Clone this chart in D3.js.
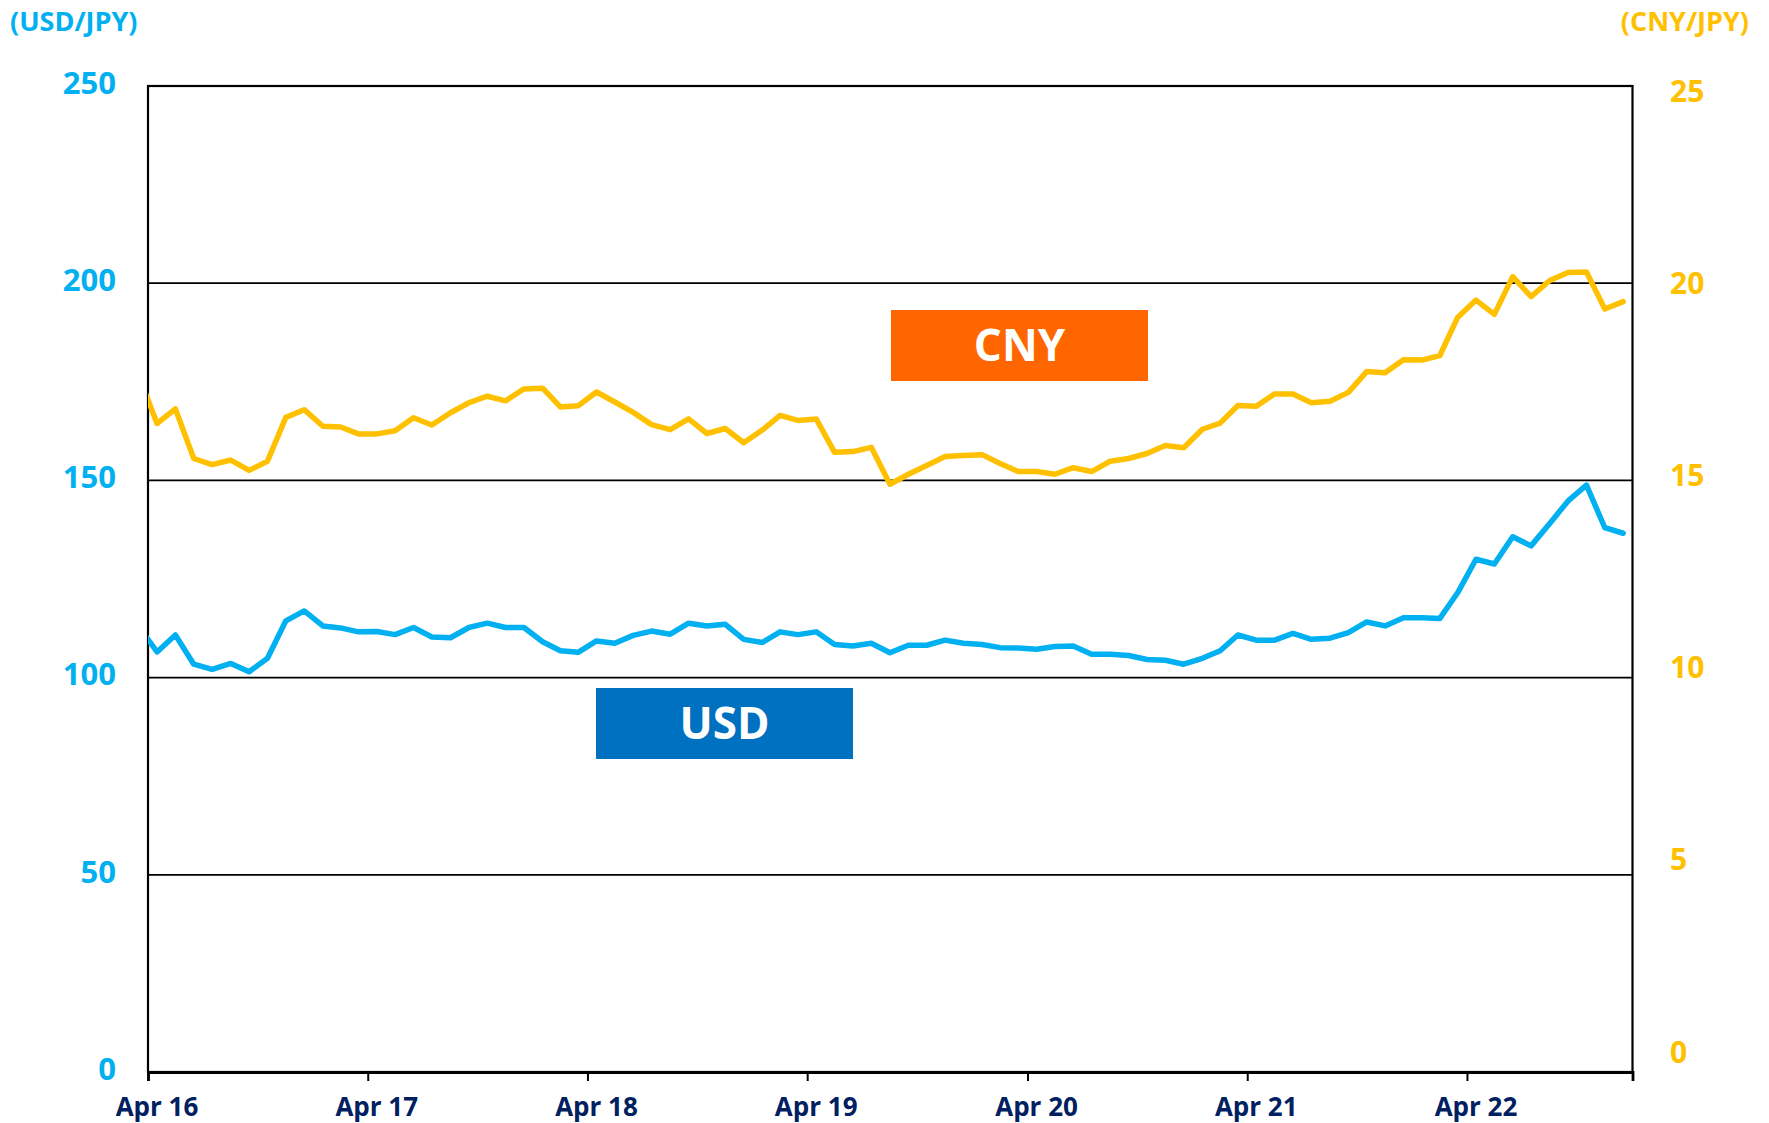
<!DOCTYPE html>
<html>
<head>
<meta charset="utf-8">
<script src="https://cdn.jsdelivr.net/npm/d3@7"></script>
<style>
  body { margin: 0; background: #fff; }
  text { font-family: "Open Sans", "Liberation Sans", sans-serif; font-weight: 700; }
</style>
</head>
<body>
<div id="chart"></div>
<script>
// month-end rates, first entry is Mar 2016 (sits just left of the axis and gets clipped)
const startMonth = new Date(2016, 2, 1);

const usdJpy = [
    113.0,
    106.5, 110.8, 103.4, 102.1, 103.6, 101.5, 104.9, 114.4, 116.9,
    113.1, 112.6, 111.6, 111.7, 110.9, 112.7, 110.3, 110.1, 112.7, 113.8, 112.7, 112.7,
    109.1, 106.8, 106.4, 109.3, 108.7, 110.7, 111.8, 111.0, 113.8, 113.1, 113.5, 109.7,
    108.9, 111.6, 110.9, 111.6, 108.4, 108.0, 108.7, 106.3, 108.2, 108.2, 109.5, 108.7,
    108.4, 107.6, 107.5, 107.2, 107.9, 108.0, 105.9, 105.9, 105.6, 104.6, 104.4, 103.4,
    104.9, 106.8, 110.8, 109.5, 109.5, 111.2, 109.7, 110.0, 111.4, 114.1, 113.1, 115.2,
    115.2, 115.0, 121.5, 130.0, 128.8, 135.7, 133.4, 139.1, 144.8, 148.8, 138.0, 136.6
];

const cnyJpy = [
    17.6,
    16.35, 16.73, 15.44, 15.28, 15.40, 15.13, 15.37, 16.51, 16.71,
    16.28, 16.26, 16.08, 16.08, 16.16, 16.50, 16.31, 16.63, 16.89, 17.06, 16.94, 17.25,
    17.27, 16.78, 16.81, 17.17, 16.91, 16.64, 16.32, 16.19, 16.47, 16.09, 16.22, 15.85,
    16.18, 16.56, 16.43, 16.47, 15.60, 15.62, 15.73, 14.77, 15.03, 15.26, 15.49, 15.52,
    15.54, 15.31, 15.10, 15.10, 15.03, 15.20, 15.10, 15.37, 15.44, 15.57, 15.78, 15.72,
    16.20, 16.36, 16.82, 16.80, 17.12, 17.12, 16.89, 16.93, 17.16, 17.70, 17.67, 18.01,
    18.00, 18.12, 19.11, 19.56, 19.19, 20.17, 19.65, 20.07, 20.28, 20.29, 19.33, 19.52
];

const leftTicks = [0, 50, 100, 150, 200, 250];
const rightTicks = [0, 5, 10, 15, 20, 25];
const xTickYears = [2016, 2017, 2018, 2019, 2020, 2021, 2022];
const xTickLabels = ["Apr 16", "Apr 17", "Apr 18", "Apr 19", "Apr 20", "Apr 21", "Apr 22"];

const W = 1769, H = 1123;
const plot = { left: 148, right: 1632.5, top: 86, bottom: 1072 };

const blue = "#00B0F0", gold = "#FFC000", navy = "#002060";

// centre of each month slot
const months = usdJpy.map((_, i) => d3.timeMonth.offset(startMonth, i));
const mid = d => new Date((+d + +d3.timeMonth.offset(d, 1)) / 2);

// ──── Scales ────
const x = d3.scaleTime()
    .domain([new Date(2016, 3, 1), new Date(2023, 0, 1)])
    .range([plot.left, plot.right]);

const yLeft = d3.scaleLinear()
    .domain([0, 250])
    .range([plot.bottom, plot.top]);

// the secondary axis in the original is a bit squeezed
const yRight = d3.scaleLinear()
    .domain([0, 25])
    .range([1052, 91]);

const svg = d3.select("#chart")
    .append("svg")
    .attr("width", W)
    .attr("height", H);

svg.append("defs").append("clipPath")
    .attr("id", "plot-clip")
    .append("rect")
    .attr("x", plot.left)
    .attr("y", plot.top - 10)
    .attr("width", plot.right - plot.left)
    .attr("height", plot.bottom - plot.top + 10);

// Grid lines
svg.append("g")
    .selectAll("line")
    .data(leftTicks.filter(d => d > 0 && d < 250))
    .join("line")
    .attr("x1", plot.left)
    .attr("x2", plot.right)
    .attr("y1", d => yLeft(d))
    .attr("y2", d => yLeft(d))
    .attr("stroke", "#000")
    .attr("stroke-width", 1.8);

// Frame
svg.append("rect")
    .attr("x", plot.left)
    .attr("y", plot.top)
    .attr("width", plot.right - plot.left)
    .attr("height", plot.bottom - plot.top)
    .attr("fill", "none")
    .attr("stroke", "#000")
    .attr("stroke-width", 2.2);

// X axis ticks + labels
const xAxis = svg.append("g")
    .attr("transform", `translate(0, ${plot.bottom})`)
    .call(d3.axisBottom(x)
        .tickValues(xTickYears.map(y => new Date(y, 3, 1)))
        .tickSize(9)
        .tickFormat(""));
xAxis.select(".domain").attr("stroke-width", 2.8);
xAxis.selectAll(".tick line").attr("stroke", "#000").attr("stroke-width", 2);

svg.append("g")
    .selectAll("text")
    .data(xTickYears)
    .join("text")
    .attr("x", d => x(mid(new Date(d, 3, 1))))
    .attr("y", 1107)
    .attr("dy", "0.35em")
    .attr("text-anchor", "middle")
    .attr("fill", navy)
    .attr("font-size", 26)
    .text((d, i) => xTickLabels[i]);

// Left axis labels
svg.append("g")
    .selectAll("text")
    .data(leftTicks)
    .join("text")
    .attr("x", 116)
    .attr("y", d => yLeft(d) - 3)
    .attr("dy", "0.35em")
    .attr("text-anchor", "end")
    .attr("fill", blue)
    .attr("font-size", 31)
    .text(d => d);

// Right axis labels
svg.append("g")
    .selectAll("text")
    .data(rightTicks)
    .join("text")
    .attr("x", 1670)
    .attr("y", d => yRight(d))
    .attr("dy", "0.35em")
    .attr("text-anchor", "start")
    .attr("fill", gold)
    .attr("font-size", 30)
    .text(d => d);

// Unit titles
svg.append("text")
    .attr("x", 10)
    .attr("y", 22)
    .attr("dy", "0.35em")
    .attr("fill", blue)
    .attr("font-size", 27)
    .text("(USD/JPY)");

svg.append("text")
    .attr("x", 1749)
    .attr("y", 22)
    .attr("dy", "0.35em")
    .attr("text-anchor", "end")
    .attr("fill", gold)
    .attr("font-size", 27)
    .text("(CNY/JPY)");

// ──── Lines ────
const lineLeft = d3.line()
    .x((d, i) => x(mid(months[i])))
    .y(d => yLeft(d));

const lineRight = d3.line()
    .x((d, i) => x(mid(months[i])))
    .y(d => yRight(d));

const lines = svg.append("g").attr("clip-path", "url(#plot-clip)");

lines.append("path")
    .datum(cnyJpy)
    .attr("d", lineRight)
    .attr("fill", "none")
    .attr("stroke", gold)
    .attr("stroke-width", 5.5)
    .attr("stroke-linejoin", "round")
    .attr("stroke-linecap", "round");

lines.append("path")
    .datum(usdJpy)
    .attr("d", lineLeft)
    .attr("fill", "none")
    .attr("stroke", blue)
    .attr("stroke-width", 5.5)
    .attr("stroke-linejoin", "round")
    .attr("stroke-linecap", "round");

// ──── Series tags ────
const tags = [
    { text: "CNY", fill: "#FF6600", x: 891, y: 310 },
    { text: "USD", fill: "#0070C0", x: 596, y: 688 }
];

const tag = svg.selectAll("g.tag")
    .data(tags)
    .join("g")
    .attr("class", "tag")
    .attr("transform", d => `translate(${d.x}, ${d.y})`);

tag.append("rect")
    .attr("width", 257)
    .attr("height", 71)
    .attr("fill", d => d.fill);

tag.append("text")
    .attr("x", 128.5)
    .attr("y", 35.5)
    .attr("dy", "0.36em")
    .attr("text-anchor", "middle")
    .attr("fill", "#fff")
    .attr("font-size", 44)
    .text(d => d.text);
</script>
</body>
</html>
